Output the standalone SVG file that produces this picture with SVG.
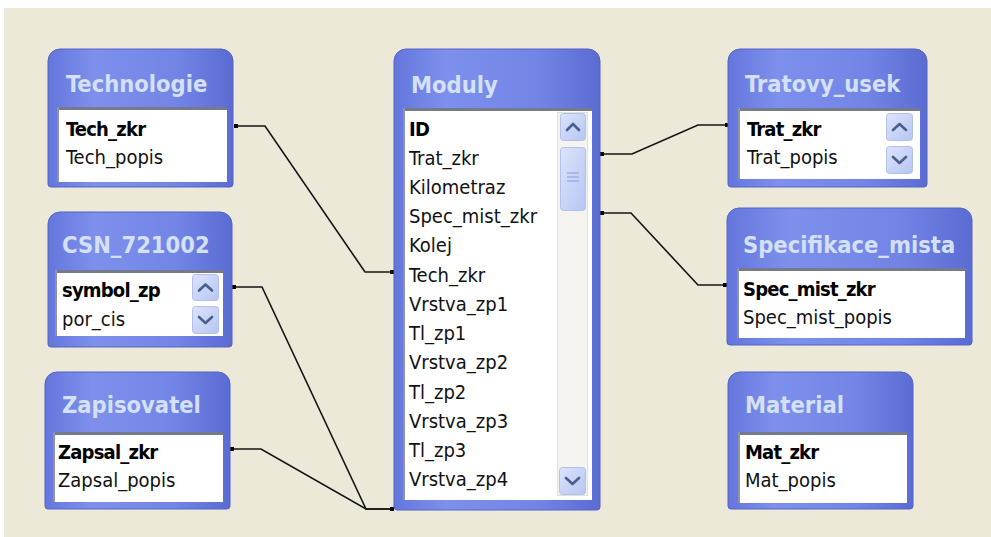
<svg xmlns="http://www.w3.org/2000/svg" width="991" height="537" viewBox="0 0 991 537">
  <defs>
    <linearGradient id="frameFill" x1="0" y1="0" x2="1" y2="0">
      <stop offset="0" stop-color="#6476DC"/>
      <stop offset="0.25" stop-color="#7E90EC"/>
      <stop offset="0.7" stop-color="#7285E6"/>
      <stop offset="1" stop-color="#5A6BD2"/>
    </linearGradient>
    <linearGradient id="btnFill" x1="0" y1="0" x2="1" y2="1">
      <stop offset="0" stop-color="#DCE4FB"/>
      <stop offset="1" stop-color="#B6C6F3"/>
    </linearGradient>
    <style>
      .frame { fill: url(#frameFill); stroke: #5464C6; stroke-width: 1; }
      .title { font-family: "DejaVu Sans Condensed", "DejaVu Sans", sans-serif; font-stretch: condensed; font-weight: bold; font-size: 23.5px; fill: #D4E0F6; }
      .field { font-family: "DejaVu Sans Condensed", "DejaVu Sans", sans-serif; font-stretch: condensed; font-size: 20px; fill: #111; }
      .key { font-weight: bold; letter-spacing: -0.8px; fill: #000; }
      .well { fill: #FFFFFF; }
      .well-top { fill: #767B8C; }
      .well-left { fill: #9094A2; }
      .track { fill: #F5F4F0; stroke: #E2E2DA; stroke-width: 1; }
      .sbtn { fill: url(#btnFill); stroke: #B2C1EC; stroke-width: 1; }
      .chev { fill: none; stroke: #4B5E8C; stroke-width: 2.6; stroke-linecap: round; stroke-linejoin: round; }
      .grip { stroke: #8FA4E4; stroke-width: 1.2; }
      .conn { fill: none; stroke: #141414; stroke-width: 1.6; }
      .dot { fill: #000; }
    </style>
  </defs>

  <!-- window background -->
  <rect x="0" y="0" width="991" height="537" fill="#FFFFFF"/>
  <rect x="4" y="8" width="987" height="529" fill="#ECE9D8"/>

  <!-- relationship lines -->
  <g id="connectors">
    <polyline class="conn" points="236,126 265,126 365,272 392,272"/>
    <polyline class="conn" points="234,287 262,287 366,509 392,509"/>
    <polyline class="conn" points="232,449 261,449 366,509 392,509"/>
    <polyline class="conn" points="602,154 632,154 698,125 727,125"/>
    <polyline class="conn" points="602,213 631,213 698,285 725,285"/>
    <rect class="dot" x="234" y="124" width="4" height="4"/>
    <rect class="dot" x="390" y="270" width="4" height="4"/>
    <rect class="dot" x="232" y="285" width="4" height="4"/>
    <rect class="dot" x="390" y="507" width="4" height="4"/>
    <rect class="dot" x="230" y="447" width="4" height="4"/>
    <rect class="dot" x="600" y="152" width="4" height="4"/>
    <rect class="dot" x="725" y="123" width="4" height="4"/>
    <rect class="dot" x="600" y="211" width="4" height="4"/>
    <rect class="dot" x="723" y="283" width="4" height="4"/>
  </g>

  <!-- Technologie -->
  <g id="technologie">
    <path class="frame" d="M48,61 A12,12 0 0 1 60,49 H221 A12,12 0 0 1 233,61 V184 A3,3 0 0 1 230,187 H51 A3,3 0 0 1 48,184 Z"/>
    <text class="title" x="66" y="92">Technologie</text>
    <rect class="well" x="57" y="107" width="170" height="75"/>
    <rect class="well-top" x="57" y="107" width="170" height="3"/>
    <rect class="well-left" x="57" y="107" width="2" height="75"/>
    <text class="field key" x="66" y="135.5">Tech_zkr</text>
    <text class="field" x="66" y="163.5">Tech_popis</text>
  </g>

  <!-- Moduly -->
  <g id="moduly">
    <path class="frame" d="M394,61 A12,12 0 0 1 406,49 H588 A12,12 0 0 1 600,61 V507 A3,3 0 0 1 597,510 H397 A3,3 0 0 1 394,507 Z"/>
    <text class="title" x="411" y="93">Moduly</text>
    <rect class="well" x="403" y="108" width="189" height="392"/>
    <rect class="well-top" x="403" y="108" width="189" height="3"/>
    <rect class="well-left" x="403" y="108" width="2" height="392"/>
    <rect class="track" x="557.5" y="112.5" width="30" height="383"/>
    <rect class="sbtn" x="560.5" y="113.5" width="25" height="27" rx="3"/>
    <polyline class="chev" points="567,130 573,124 579,130"/>
    <rect class="sbtn" x="560.5" y="147.5" width="25" height="63" rx="3"/>
    <line class="grip" x1="567" y1="173" x2="579" y2="173"/>
    <line class="grip" x1="567" y1="177" x2="579" y2="177"/>
    <line class="grip" x1="567" y1="181" x2="579" y2="181"/>
    <rect class="sbtn" x="559.5" y="467.5" width="26" height="27" rx="3"/>
    <polyline class="chev" points="566,478 572.5,484 579,478"/>
    <text class="field key" x="409" y="135.5">ID</text>
    <text class="field" x="409" y="164.5">Trat_zkr</text>
    <text class="field" x="409" y="193.5">Kilometraz</text>
    <text class="field" x="409" y="223">Spec_mist_zkr</text>
    <text class="field" x="409" y="252">Kolej</text>
    <text class="field" x="409" y="281.5">Tech_zkr</text>
    <text class="field" x="409" y="310.5">Vrstva_zp1</text>
    <text class="field" x="409" y="340">Tl_zp1</text>
    <text class="field" x="409" y="369">Vrstva_zp2</text>
    <text class="field" x="409" y="398.5">Tl_zp2</text>
    <text class="field" x="409" y="427.5">Vrstva_zp3</text>
    <text class="field" x="409" y="456.5">Tl_zp3</text>
    <text class="field" x="409" y="485.5">Vrstva_zp4</text>
  </g>

  <!-- Tratovy_usek -->
  <g id="tratovy_usek">
    <path class="frame" d="M728,61 A12,12 0 0 1 740,49 H915 A12,12 0 0 1 927,61 V184 A3,3 0 0 1 924,187 H731 A3,3 0 0 1 728,184 Z"/>
    <text class="title" x="745" y="92">Tratovy_usek</text>
    <rect class="well" x="738" y="108" width="182" height="71"/>
    <rect class="well-top" x="738" y="108" width="182" height="3"/>
    <rect class="well-left" x="738" y="108" width="2" height="71"/>
    <rect class="sbtn" x="886.5" y="113.5" width="26" height="27" rx="3"/>
    <polyline class="chev" points="893,130 899.5,124 906,130"/>
    <rect class="sbtn" x="886.5" y="146.5" width="26" height="27" rx="3"/>
    <polyline class="chev" points="893,157 899.5,163 906,157"/>
    <text class="field key" x="747" y="135.5">Trat_zkr</text>
    <text class="field" x="747" y="163.5">Trat_popis</text>
  </g>

  <!-- Specifikace_mista -->
  <g id="specifikace_mista">
    <path class="frame" d="M727,220 A12,12 0 0 1 739,208 H960 A12,12 0 0 1 972,220 V342 A3,3 0 0 1 969,345 H730 A3,3 0 0 1 727,342 Z"/>
    <text class="title" x="743" y="253">Specifikace_mista</text>
    <rect class="well" x="737" y="268" width="228" height="70"/>
    <rect class="well-top" x="737" y="268" width="228" height="3"/>
    <rect class="well-left" x="737" y="268" width="2" height="70"/>
    <text class="field key" x="743" y="295.5">Spec_mist_zkr</text>
    <text class="field" x="743" y="323.5">Spec_mist_popis</text>
  </g>

  <!-- CSN_721002 -->
  <g id="csn_721002">
    <path class="frame" d="M48,224 A12,12 0 0 1 60,212 H220 A12,12 0 0 1 232,224 V344 A3,3 0 0 1 229,347 H51 A3,3 0 0 1 48,344 Z"/>
    <text class="title" x="62" y="253">CSN_721002</text>
    <rect class="well" x="55" y="270" width="168" height="66"/>
    <rect class="well-top" x="55" y="270" width="168" height="3"/>
    <rect class="well-left" x="55" y="270" width="2" height="66"/>
    <rect class="sbtn" x="192.5" y="274.5" width="26" height="26" rx="3"/>
    <polyline class="chev" points="199,290.5 205.5,284.5 212,290.5"/>
    <rect class="sbtn" x="192.5" y="306.5" width="26" height="27" rx="3"/>
    <polyline class="chev" points="199,317 205.5,323 212,317"/>
    <text class="field key" x="62" y="296.5">symbol_zp</text>
    <text class="field" x="62" y="325.5">por_cis</text>
  </g>

  <!-- Zapisovatel -->
  <g id="zapisovatel">
    <path class="frame" d="M45,384 A12,12 0 0 1 57,372 H218 A12,12 0 0 1 230,384 V506 A3,3 0 0 1 227,509 H48 A3,3 0 0 1 45,506 Z"/>
    <text class="title" x="62" y="413">Zapisovatel</text>
    <rect class="well" x="53" y="432" width="170" height="70"/>
    <rect class="well-top" x="53" y="432" width="170" height="3"/>
    <rect class="well-left" x="53" y="432" width="2" height="70"/>
    <text class="field key" x="58" y="458.5">Zapsal_zkr</text>
    <text class="field" x="58" y="486.5">Zapsal_popis</text>
  </g>

  <!-- Material -->
  <g id="material">
    <path class="frame" d="M728,384 A12,12 0 0 1 740,372 H901 A12,12 0 0 1 913,384 V506 A3,3 0 0 1 910,509 H731 A3,3 0 0 1 728,506 Z"/>
    <text class="title" x="745" y="413">Material</text>
    <rect class="well" x="738" y="432" width="169" height="71"/>
    <rect class="well-top" x="738" y="432" width="169" height="3"/>
    <rect class="well-left" x="738" y="432" width="2" height="71"/>
    <text class="field key" x="745" y="458.5">Mat_zkr</text>
    <text class="field" x="745" y="486.5">Mat_popis</text>
  </g>
</svg>
